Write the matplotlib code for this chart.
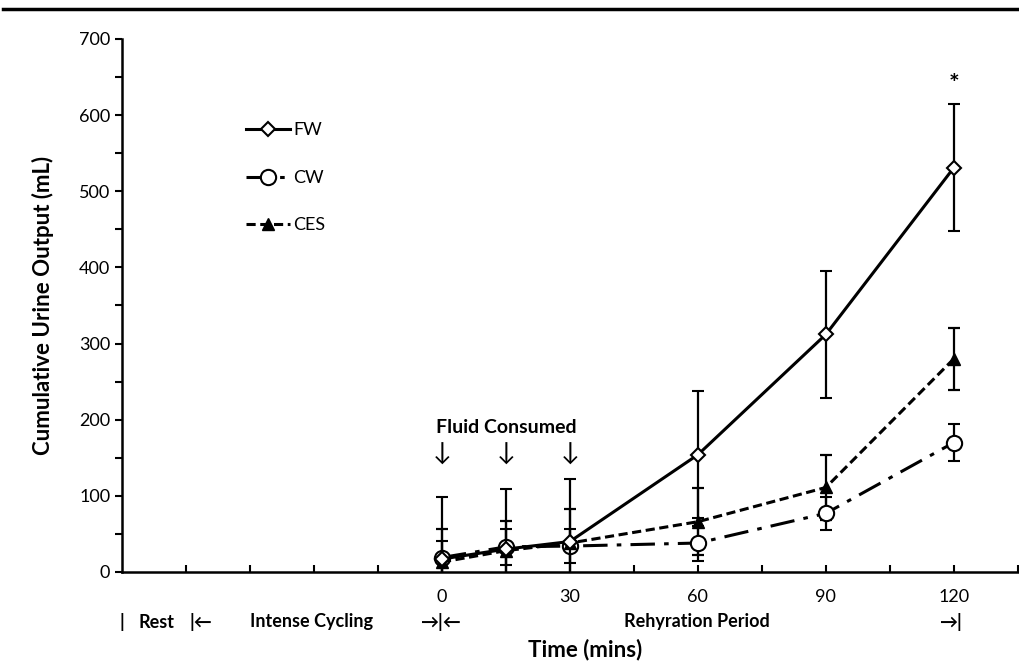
import matplotlib.pyplot as plt
from matplotlib.lines import Line2D
import numpy as np

plt.rcParams['font.family'] = ['Lato', 'DejaVu Sans']

# data
time = [0, 15, 30, 60, 90, 120]
fw = [17, 30, 40, 154, 312, 531]
fw_err = [82, 79, 82, 83, 83, 83]
cw = [19, 33, 34, 38, 77, 170]
cw_err = [22, 24, 22, 23, 22, 24]
ces = [13, 28, 38, 66, 111, 280]
ces_err = [44, 39, 45, 44, 43, 41]

xtick_pos = [-60, -45, -30, -15, 0, 15, 30, 45, 60, 75, 90, 105, 120, 135]
xtick_lab = ['', '', '', '', '0', '', '30', '', '60', '', '90', '', '120', '']

fig = plt.figure(figsize=(10.2, 6.63), dpi=100)
ax = fig.add_axes([0.1196, 0.1373, 0.8804, 0.804])

ekw = dict(ecolor='black', elinewidth=1.6, capsize=4, capthick=1.6)
fw_style = dict(color='black', lw=2.2, marker='D', ms=7, mfc='white', mec='black', mew=1.5)
cw_style = dict(color='black', lw=2.2, marker='o', ms=11, mfc='white', mec='black', mew=1.5,
                dashes=(8, 3, 1.5, 3))
ces_style = dict(color='black', lw=2.2, marker='^', ms=8, mfc='black', mec='black',
                 dashes=(3, 1.5))
ax.errorbar(time, fw, yerr=fw_err, zorder=3, **fw_style, **ekw)
ax.errorbar(time, cw, yerr=cw_err, zorder=2, **cw_style, **ekw)
ax.errorbar(time, ces, yerr=ces_err, zorder=2, **ces_style, **ekw)

ax.set_xlim(-75, 135.5)
ax.set_ylim(0, 700)
ax.spines['top'].set_visible(False)
ax.spines['right'].set_visible(False)
ax.spines['left'].set_linewidth(1.8)
ax.spines['bottom'].set_linewidth(1.8)

ax.set_xticks(xtick_pos)
ax.set_xticklabels(xtick_lab, fontsize=13)
ax.tick_params(axis='x', direction='in', length=5, width=1.5, pad=12)
ax.set_yticks(np.arange(0, 701, 100))
ax.set_yticks(np.arange(50, 700, 100), minor=True)
ax.tick_params(axis='y', which='both', direction='out', length=5, width=1.5, labelsize=13)

ax.set_ylabel('Cumulative Urine Output (mL)', fontsize=16, fontweight='bold', labelpad=18)

# annotations
ax.text(15, 190, 'Fluid Consumed', ha='center', va='center', fontsize=14, fontweight='bold')
for t in time[:3]:
    ax.text(t, 155, '↓', ha='center', va='center', fontsize=18)
ax.text(120, 640, '*', ha='center', va='center', fontsize=18, fontweight='bold')

# phase labels under the axis
row_y = 622
def ftxt(x_px, s, size=13):
    fig.text(x_px / 1020, 1 - row_y / 663, s, ha='center', va='center', fontsize=size,
             fontweight='bold')
ftxt(122, '|')
ftxt(156, 'Rest')
ftxt(201, '|←')
ftxt(311, 'Intense Cycling')
ftxt(440, '→|←')
ftxt(697, 'Rehyration Period')
ftxt(950, '→|')
fig.text(585 / 1020, 1 - 650 / 663, 'Time (mins)', ha='center', va='center',
         fontsize=16, fontweight='bold')

handles = [Line2D([], [], **fw_style), Line2D([], [], **cw_style), Line2D([], [], **ces_style)]
ax.legend(handles, ['FW', 'CW', 'CES'], loc='upper left',
          bbox_to_anchor=(230 / 1020, 1 - 106 / 663),
          bbox_transform=fig.transFigure, frameon=False, fontsize=13,
          handlelength=2.4, labelspacing=1.75, handletextpad=0.2)

# separator line at top of the figure
fig.add_artist(Line2D([3 / 1020, 1], [1 - 9 / 663, 1 - 9 / 663], color='black',
                      lw=2.5, transform=fig.transFigure))

fig.savefig('out.png', dpi=100)
